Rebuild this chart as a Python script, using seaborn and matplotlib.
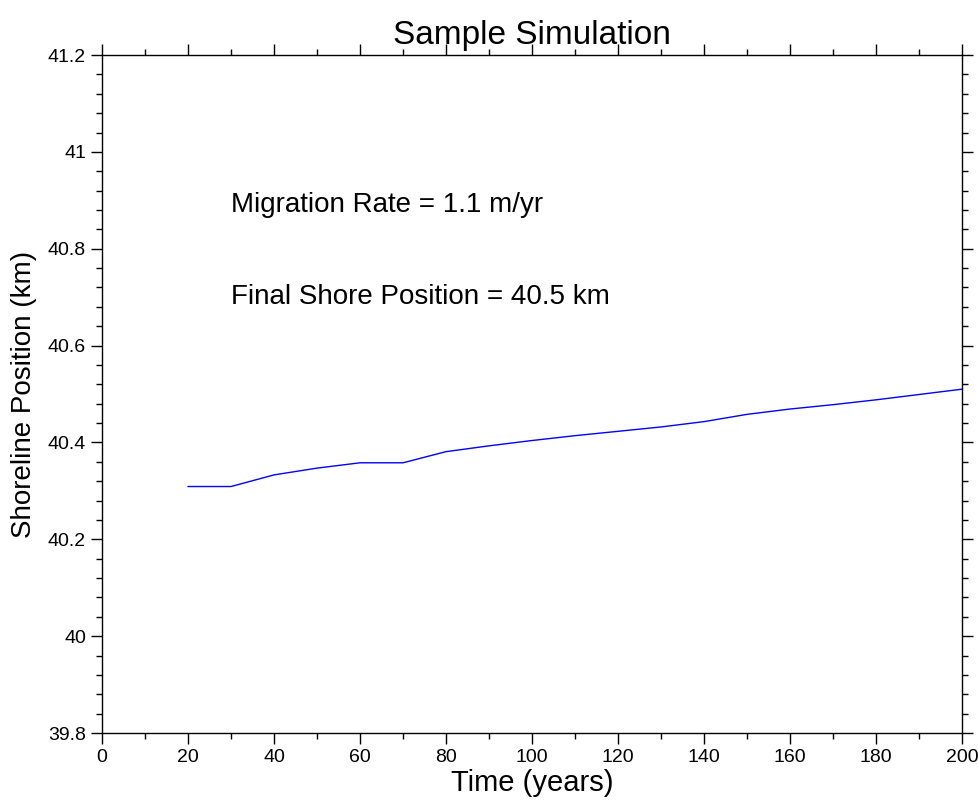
import matplotlib
matplotlib.use('Agg')
import matplotlib.pyplot as plt
from matplotlib.ticker import MultipleLocator
import seaborn as sns
import pandas as pd

# values
time_years = [20, 30, 40, 50, 60, 70, 80, 90, 100, 110, 120, 130, 140, 150, 160, 170, 180, 190, 200]
shore_km = [40.309, 40.309, 40.333, 40.347, 40.358, 40.358, 40.381, 40.393, 40.404, 40.414,
            40.423, 40.432, 40.443, 40.458, 40.469, 40.478, 40.488, 40.499, 40.510]
notes = ["Migration Rate = 1.1 m/yr", "Final Shore Position = 40.5 km"]

df = pd.DataFrame({"time": time_years, "shore": shore_km})

sns.set_style("ticks")
plt.rcParams['font.family'] = ['Liberation Sans', 'DejaVu Sans']
plt.rcParams['text.color'] = 'black'
plt.rcParams['axes.labelcolor'] = 'black'
plt.rcParams['xtick.color'] = 'black'
plt.rcParams['ytick.color'] = 'black'

fig = plt.figure(figsize=(9.79, 8.02), dpi=100)
ax = fig.add_axes([0.1042, 0.086, 0.8784, 0.8454])

sns.lineplot(data=df, x="time", y="shore", color="#0000ff", linewidth=1, ax=ax)

ax.set_xlim(0, 200)
ax.set_ylim(39.8, 41.2)
ax.xaxis.set_major_locator(MultipleLocator(20))
ax.xaxis.set_minor_locator(MultipleLocator(10))
ax.yaxis.set_minor_locator(MultipleLocator(0.04))
ax.set_yticks([39.8, 40, 40.2, 40.4, 40.6, 40.8, 41, 41.2])
ax.set_yticklabels(["39.8", "40", "40.2", "40.4", "40.6", "40.8", "41", "41.2"])

ax.tick_params(which="both", direction="out", top=True, right=True)
ax.tick_params(which="major", length=8, width=1, labelsize=14)
ax.tick_params(which="minor", length=4, width=1)
for s in ax.spines.values():
    s.set_linewidth(1)
    s.set_color("black")

ax.set_title("Sample Simulation", fontsize=24, pad=8, color="black")
ax.set_xlabel("Time (years)", fontsize=21, labelpad=2)
ax.set_ylabel("Shoreline Position (km)", fontsize=20, labelpad=8)

ax.text(30, 40.89, notes[0], fontsize=20, va="center", ha="left", color="black")
ax.text(30, 40.70, notes[1], fontsize=20, va="center", ha="left", color="black")

fig.savefig("out.png", dpi=100)
